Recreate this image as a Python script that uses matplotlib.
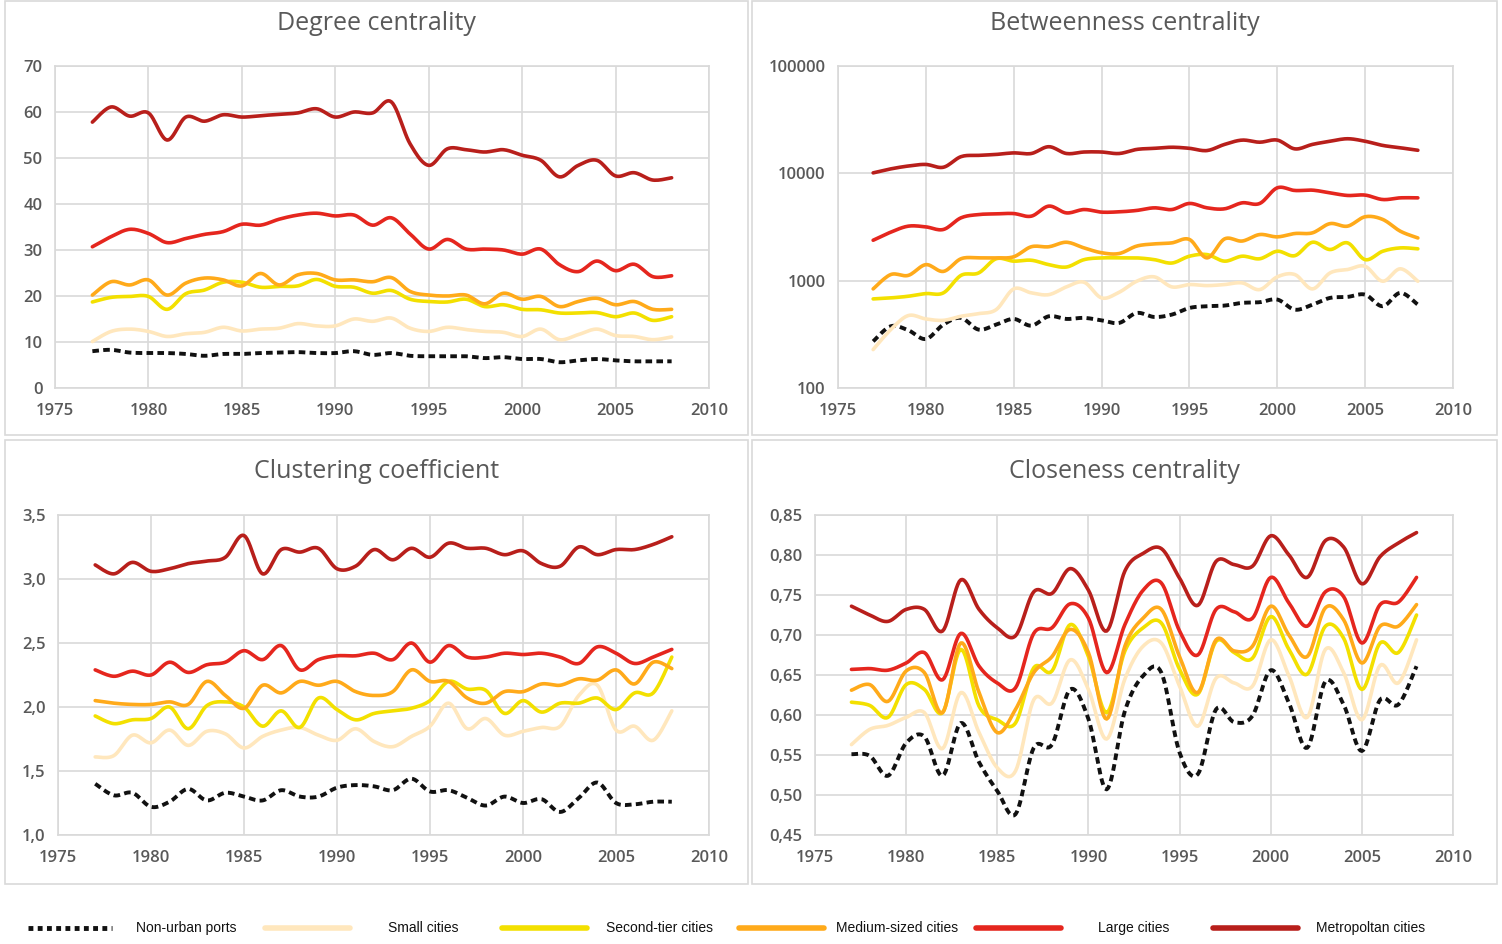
import numpy as np
import matplotlib.pyplot as plt
from matplotlib.lines import Line2D
from matplotlib.patches import Rectangle
from matplotlib.ticker import NullLocator

plt.rcParams['font.family'] = ['Open Sans', 'DejaVu Sans']

years = np.arange(1977, 2009)

names = ['Non-urban ports', 'Small cities', 'Second-tier cities',
         'Medium-sized cities', 'Large cities', 'Metropoltan cities']
colors = ['#111111', '#FFE7BD', '#F3E000', '#FFAA1A', '#E5261E', '#B81F1B']

# Degree centrality
deg_non = [8.0, 8.3, 7.7, 7.6, 7.6, 7.4, 7.0, 7.4, 7.4, 7.6, 7.7, 7.8, 7.6, 7.6, 8.0, 7.2,
           7.6, 7.0, 6.9, 6.9, 6.9, 6.5, 6.7, 6.3, 6.3, 5.6, 6.0, 6.3, 6.0, 5.8, 5.8, 5.8]
deg_small = [10.1, 12.3, 12.8, 12.3, 11.2, 11.8, 12.1, 13.2, 12.4, 12.8, 13.0, 14.0, 13.5, 13.5, 15.0, 14.5,
             15.2, 13.0, 12.3, 13.2, 12.7, 12.3, 12.1, 11.2, 12.8, 10.5, 11.6, 12.8, 11.4, 11.2, 10.5, 11.1]
deg_second = [18.7, 19.7, 19.9, 19.9, 17.1, 20.5, 21.3, 23.0, 23.0, 21.9, 22.1, 22.2, 23.6, 22.1, 21.9, 20.6,
              21.2, 19.3, 18.8, 18.7, 19.3, 17.7, 18.1, 17.1, 17.0, 16.3, 16.3, 16.4, 15.5, 16.3, 14.7, 15.5]
deg_medium = [20.2, 23.1, 22.4, 23.5, 20.2, 22.8, 23.9, 23.5, 22.2, 24.9, 22.4, 24.6, 24.9, 23.5, 23.5, 23.1,
              24.0, 21.0, 20.2, 20.0, 20.2, 18.3, 20.6, 19.3, 19.9, 17.7, 18.8, 19.5, 18.1, 18.8, 17.1, 17.1]
deg_large = [30.7, 32.9, 34.5, 33.6, 31.6, 32.5, 33.4, 34.0, 35.6, 35.4, 36.7, 37.6, 38.0, 37.4, 37.6, 35.4,
             37.0, 33.5, 30.2, 32.3, 30.2, 30.2, 30.0, 29.1, 30.2, 26.8, 25.3, 27.6, 25.5, 26.9, 24.2, 24.4]
deg_metro = [57.8, 61.1, 59.1, 59.8, 53.9, 58.9, 58.0, 59.4, 58.9, 59.2, 59.5, 59.8, 60.7, 58.9, 60.0, 59.8,
             62.2, 53.1, 48.4, 52.0, 51.8, 51.3, 51.8, 50.6, 49.5, 45.9, 48.4, 49.5, 46.1, 46.8, 45.2, 45.7]

# Betweenness centrality
btw_non = [272, 376, 345, 286, 390, 450, 350, 390, 440, 381, 466, 440, 450, 427, 404, 500,
           459, 483, 557, 578, 586, 621, 630, 667, 537, 598, 691, 706, 741, 578, 770, 598]
btw_small = [228, 350, 473, 440, 427, 466, 493, 537, 838, 770, 741, 875, 967, 691, 780, 988,
             1085, 875, 920, 900, 920, 953, 826, 1085, 1140, 838, 1180, 1270, 1360, 988, 1290, 988]
btw_second = [676, 691, 716, 758, 770, 1120, 1180, 1600, 1520, 1550, 1410, 1340, 1570, 1630, 1630, 1630,
              1570, 1460, 1690, 1750, 1520, 1690, 1600, 1880, 1710, 2280, 1950, 2250, 1570, 1880, 2020, 1980]
btw_medium = [838, 1140, 1120, 1410, 1220, 1600, 1630, 1630, 1670, 2070, 2070, 2280, 2020, 1820, 1790, 2100,
              2200, 2250, 2420, 1630, 2450, 2340, 2690, 2560, 2750, 2790, 3400, 3220, 3940, 3720, 2890, 2500]
btw_large = [2380, 2830, 3220, 3170, 3000, 3850, 4130, 4190, 4220, 3990, 4950, 4280, 4600, 4350, 4380, 4510,
             4770, 4600, 5240, 4770, 4670, 5310, 5240, 7330, 6920, 6970, 6580, 6220, 6270, 5700, 5910, 5910]
btw_metro = [10100, 11000, 11700, 12100, 11400, 14300, 14700, 15000, 15500, 15300, 17700, 15300, 15800, 15800,
             15300, 16700, 17100, 17500, 17100, 16300, 18600, 20400, 19500, 20400, 16900, 18600, 19900, 21000,
             19900, 18200, 17300, 16400]

# Clustering coefficient
clu_non = [1.40, 1.31, 1.33, 1.22, 1.26, 1.36, 1.27, 1.33, 1.30, 1.27, 1.35, 1.30, 1.30, 1.37, 1.39, 1.38,
           1.35, 1.44, 1.34, 1.35, 1.29, 1.23, 1.30, 1.25, 1.28, 1.18, 1.29, 1.41, 1.25, 1.24, 1.26, 1.26]
clu_small = [1.61, 1.62, 1.78, 1.72, 1.82, 1.70, 1.81, 1.79, 1.68, 1.77, 1.82, 1.84, 1.78, 1.74, 1.83, 1.73,
             1.69, 1.77, 1.85, 2.03, 1.83, 1.91, 1.78, 1.81, 1.84, 1.85, 2.09, 2.17, 1.82, 1.85, 1.74, 1.97]
clu_second = [1.93, 1.87, 1.90, 1.91, 2.00, 1.83, 2.01, 2.04, 2.00, 1.85, 1.97, 1.84, 2.07, 1.98, 1.90, 1.95,
              1.97, 1.99, 2.05, 2.20, 2.14, 2.13, 1.95, 2.05, 1.96, 2.03, 2.03, 2.07, 1.98, 2.11, 2.11, 2.39]
clu_medium = [2.05, 2.03, 2.02, 2.02, 2.04, 2.02, 2.20, 2.09, 1.99, 2.17, 2.11, 2.20, 2.17, 2.20, 2.12, 2.09,
              2.12, 2.29, 2.20, 2.20, 2.07, 2.03, 2.12, 2.12, 2.18, 2.17, 2.22, 2.21, 2.29, 2.18, 2.35, 2.30]
clu_large = [2.29, 2.24, 2.28, 2.25, 2.35, 2.27, 2.33, 2.35, 2.44, 2.37, 2.48, 2.29, 2.37, 2.40, 2.40, 2.42,
             2.37, 2.50, 2.35, 2.48, 2.39, 2.39, 2.42, 2.41, 2.42, 2.39, 2.34, 2.47, 2.42, 2.34, 2.39, 2.45]
clu_metro = [3.11, 3.04, 3.13, 3.06, 3.08, 3.12, 3.14, 3.17, 3.34, 3.04, 3.23, 3.21, 3.24, 3.08, 3.10, 3.23,
             3.15, 3.24, 3.17, 3.28, 3.24, 3.24, 3.19, 3.22, 3.12, 3.10, 3.25, 3.19, 3.23, 3.23, 3.27, 3.33]

# Closeness centrality
clo_non = [0.551, 0.549, 0.524, 0.565, 0.573, 0.524, 0.590, 0.541, 0.505, 0.476, 0.559, 0.563, 0.632, 0.595,
           0.507, 0.605, 0.649, 0.653, 0.553, 0.526, 0.607, 0.591, 0.599, 0.656, 0.615, 0.559, 0.642, 0.613,
           0.555, 0.619, 0.613, 0.661]
clo_small = [0.563, 0.582, 0.587, 0.597, 0.603, 0.558, 0.628, 0.578, 0.534, 0.530, 0.619, 0.615, 0.669, 0.632,
             0.570, 0.645, 0.686, 0.690, 0.636, 0.586, 0.646, 0.640, 0.636, 0.694, 0.649, 0.597, 0.682, 0.653,
             0.594, 0.662, 0.640, 0.694]
clo_second = [0.616, 0.612, 0.597, 0.638, 0.632, 0.603, 0.682, 0.611, 0.594, 0.590, 0.659, 0.655, 0.713, 0.673,
              0.603, 0.680, 0.709, 0.715, 0.657, 0.626, 0.692, 0.678, 0.671, 0.723, 0.682, 0.651, 0.711, 0.696,
              0.632, 0.690, 0.678, 0.725]
clo_medium = [0.631, 0.638, 0.617, 0.655, 0.653, 0.603, 0.690, 0.628, 0.578, 0.607, 0.653, 0.673, 0.707, 0.678,
              0.595, 0.686, 0.721, 0.732, 0.673, 0.628, 0.694, 0.680, 0.686, 0.736, 0.700, 0.673, 0.734, 0.719,
              0.665, 0.711, 0.711, 0.738]
clo_large = [0.657, 0.658, 0.656, 0.665, 0.678, 0.644, 0.702, 0.661, 0.640, 0.634, 0.702, 0.709, 0.739, 0.721,
             0.653, 0.713, 0.756, 0.765, 0.705, 0.675, 0.732, 0.729, 0.721, 0.772, 0.740, 0.711, 0.754, 0.748,
             0.690, 0.738, 0.741, 0.772]
clo_metro = [0.736, 0.725, 0.717, 0.732, 0.732, 0.705, 0.769, 0.732, 0.709, 0.699, 0.754, 0.752, 0.783, 0.756,
             0.705, 0.780, 0.802, 0.808, 0.771, 0.737, 0.792, 0.788, 0.786, 0.824, 0.800, 0.772, 0.818, 0.810,
             0.764, 0.798, 0.815, 0.828]

deg_ticks = [0, 10, 20, 30, 40, 50, 60, 70]
btw_ticks = [100, 1000, 10000, 100000]
clu_ticks = [1.0, 1.5, 2.0, 2.5, 3.0, 3.5]
clo_ticks = [0.45, 0.50, 0.55, 0.60, 0.65, 0.70, 0.75, 0.80, 0.85]
x_ticks = [1975, 1980, 1985, 1990, 1995, 2000, 2005, 2010]


def smooth(x, y, n=12):
    # Catmull-Rom curve through the points, like Excel's smoothed lines
    x = np.asarray(x, float)
    y = np.asarray(y, float)
    t = np.linspace(0, 1, n, endpoint=False)[:, None]

    def cr(p):
        p = np.r_[p[0], p, p[-1]]
        p0, p1, p2, p3 = p[:-3], p[1:-2], p[2:-1], p[3:]
        c = 0.5 * (2 * p1 + (p2 - p0) * t + (2 * p0 - 5 * p1 + 4 * p2 - p3) * t ** 2
                   + (3 * p1 - p0 - 3 * p2 + p3) * t ** 3)
        return c.T.ravel()

    return np.r_[cr(x), x[-1]], np.r_[cr(y), y[-1]]


W, H = 1502, 944


def fbox(l, t, r, b):
    return [l / W, 1 - b / H, (r - l) / W, (b - t) / H]


fig = plt.figure(figsize=(15.02, 9.44), dpi=100)
fig.patch.set_facecolor('white')

panels = [
    ('Degree centrality', [deg_non, deg_small, deg_second, deg_medium, deg_large, deg_metro],
     deg_ticks, [str(v) for v in deg_ticks], False, (55, 66, 709, 388), (5, 1, 748, 435), 23),
    ('Betweenness centrality', [btw_non, btw_small, btw_second, btw_medium, btw_large, btw_metro],
     btw_ticks, [str(v) for v in btw_ticks], True, (838, 66, 1453, 388), (752, 1, 1497, 435), 23),
    ('Clustering coefficient', [clu_non, clu_small, clu_second, clu_medium, clu_large, clu_metro],
     clu_ticks, [f'{v:.1f}'.replace('.', ',') for v in clu_ticks], False, (58, 515, 709, 835),
     (5, 440, 748, 884), 472),
    ('Closeness centrality', [clo_non, clo_small, clo_second, clo_medium, clo_large, clo_metro],
     clo_ticks, [f'{v:.2f}'.replace('.', ',') for v in clo_ticks], False, (815, 515, 1453, 835),
     (752, 440, 1497, 884), 472),
]

for title, series, yt, ylab, logy, abox, pbox, ty in panels:
    l, t, r, b = pbox
    fig.add_artist(Rectangle((l / W, 1 - b / H), (r - l) / W, (b - t) / H, transform=fig.transFigure,
                             fill=False, edgecolor='#d9d9d9', linewidth=1.2))
    fig.text((l + r) / 2 / W, 1 - ty / H, title, ha='center', va='center', fontsize=18, color='#595959')

    ax = fig.add_axes(fbox(*abox))
    for vals, name, col in zip(series, names, colors):
        if logy:
            xs, ys = smooth(years, np.log10(vals))
            ys = 10 ** ys
        else:
            xs, ys = smooth(years, vals)
        if name == 'Non-urban ports':
            ax.plot(xs, ys, color=col, linewidth=2.8, dashes=(1.7, 1.1), label=name)
        else:
            ax.plot(xs, ys, color=col, linewidth=2.6, label=name, solid_capstyle='round')

    if logy:
        ax.set_yscale('log')
        ax.yaxis.set_minor_locator(NullLocator())
    ax.set_ylim(yt[0], yt[-1])
    ax.set_yticks(yt)
    ax.set_yticklabels(ylab)
    ax.set_xlim(1975, 2010)
    ax.set_xticks(x_ticks)
    ax.grid(True, color='#d9d9d9', linewidth=1.2)
    ax.set_axisbelow(True)
    for s in ax.spines.values():
        s.set_color('#d9d9d9')
        s.set_linewidth(1.2)
    ax.tick_params(axis='both', length=0, labelsize=12, labelcolor='#595959')
    for lab in ax.get_xticklabels() + ax.get_yticklabels():
        lab.set_fontweight('semibold')
    ax.tick_params(axis='y', pad=9)
    ax.tick_params(axis='x', pad=11)

# legend row with evenly spaced entries
for i, (name, col) in enumerate(zip(names, colors)):
    x0 = 28 + 237 * i
    y0 = 1 - 928 / H
    if name == 'Non-urban ports':
        ln = Line2D([x0 / W, (x0 + 84) / W], [y0, y0], transform=fig.transFigure, color=col,
                    linewidth=3.5, dashes=(1.0, 0.9))
    else:
        ln = Line2D([x0 / W, (x0 + 85) / W], [y0, y0], transform=fig.transFigure, color=col,
                    linewidth=4, solid_capstyle='round')
    fig.add_artist(ln)
    fig.text((x0 + 158) / W, y0, name, ha='center', va='center', fontsize=10, color='#111111',
             family=['Liberation Sans', 'DejaVu Sans'])

fig.savefig('out.png', dpi=100, facecolor='white')
